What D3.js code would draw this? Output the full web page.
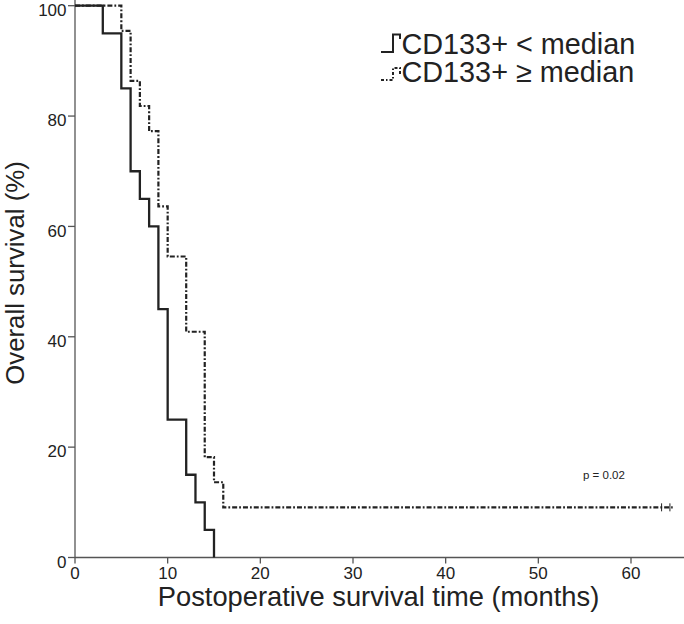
<!DOCTYPE html>
<html><head><meta charset="utf-8">
<script src="https://cdn.jsdelivr.net/npm/d3@7"></script>
<style>
html,body{margin:0;padding:0;background:#fff;}
svg{display:block;font-family:"Liberation Sans",Arial,sans-serif;}
</style></head>
<body>
<script>
// Data
const timesLow = [0, 3, 5, 6, 7, 8, 9, 10, 12, 13, 14, 15];
const survLow  = [100, 95, 85, 70, 65, 60, 45, 25, 15, 10, 5, 0];
const timesHigh = [0, 5, 6, 7, 8, 9, 10, 12, 14, 15, 16];
const survHigh  = [100, 95.45, 86.36, 81.82, 77.27, 63.64, 54.55, 40.91, 18.18, 13.64, 9.09];
const censorHigh = [63.3, 64.2];
const endHigh = 64.5;
const xTicks = [0, 10, 20, 30, 40, 50, 60];
const yTicks = [0, 20, 40, 60, 80, 100];
const legendLabels = ["CD133+ < median", "CD133+ \u2265 median"];
const pLabel = "p = 0.02";
const xTitle = "Postoperative survival time (months)";
const yTitle = "Overall survival (%)";

const W = 684, H = 624;
const svg = d3.select("body").append("svg").attr("width", W).attr("height", H);

const x = d3.scaleLinear().domain([0, 60]).range([75, 631]);
const y = d3.scaleLinear().domain([0, 100]).range([557.5, 5.7]);

const axisColor = "#555";
const lineColor = "#222";
const textColor = "#222";

// Axes lines
svg.append("line").attr("x1", x(0)).attr("x2", W).attr("y1", y(0)).attr("y2", y(0))
  .attr("stroke", axisColor).attr("stroke-width", 1.3);
svg.append("line").attr("x1", x(0)).attr("x2", x(0)).attr("y1", 0).attr("y2", y(0))
  .attr("stroke", axisColor).attr("stroke-width", 1.3);

// X ticks
const xg = svg.append("g");
xTicks.forEach(t => {
  xg.append("line").attr("x1", x(t)).attr("x2", x(t)).attr("y1", y(0)).attr("y2", y(0) + 6)
    .attr("stroke", axisColor).attr("stroke-width", 1.3);
  xg.append("text").attr("x", x(t)).attr("y", 579).attr("text-anchor", "middle")
    .attr("font-size", 17).attr("fill", textColor).text(t);
});
// Y ticks
const yg = svg.append("g");
yTicks.forEach(t => {
  yg.append("line").attr("x1", x(0) - 7).attr("x2", x(0)).attr("y1", y(t)).attr("y2", y(t))
    .attr("stroke", axisColor).attr("stroke-width", 1.3);
  yg.append("text").attr("x", 66.5).attr("y", y(t) + 4).attr("dy", "0.36em").attr("text-anchor", "end")
    .attr("font-size", 17).attr("fill", textColor).text(t);
});

// Titles
svg.append("text").attr("x", 378.5).attr("y", 606).attr("text-anchor", "middle")
  .attr("font-size", 27.3).attr("fill", textColor).text(xTitle);
svg.append("text").attr("transform", "translate(23.5,273) rotate(-90)").attr("text-anchor", "middle")
  .attr("font-size", 25.8).attr("fill", textColor).text(yTitle);

// Curves
const line = d3.line().x(d => x(d[0])).y(d => y(d[1])).curve(d3.curveStepAfter);
const lowData = timesLow.map((t, i) => [t, survLow[i]]);
svg.append("path").datum(lowData).attr("d", line).attr("fill", "none")
  .attr("stroke", lineColor).attr("stroke-width", 2.3);

const highData = timesHigh.map((t, i) => [t, survHigh[i]]);
highData.push([endHigh, survHigh[survHigh.length - 1]]);
svg.append("path").datum(highData).attr("d", line).attr("fill", "none")
  .attr("stroke", lineColor).attr("stroke-width", 2.2).attr("stroke-dasharray", "5,2,1.8,2");

// censor marks
const lastS = survHigh[survHigh.length - 1];
censorHigh.forEach(c => {
  svg.append("line").attr("x1", x(c)).attr("x2", x(c)).attr("y1", y(lastS) - 4).attr("y2", y(lastS) + 4)
    .attr("stroke", lineColor).attr("stroke-width", 1);
});

// p value
svg.append("text").attr("x", 583).attr("y", 479).attr("font-size", 11.5).attr("fill", textColor).text(pLabel);

// Legend
const lg = svg.append("g");
lg.append("path").attr("d", "M381,52 H393 V34.5 H400 V39")
  .attr("fill", "none").attr("stroke", lineColor).attr("stroke-width", 2);
lg.append("path").attr("d", "M381,80 H393 V68 H400 V74")
  .attr("fill", "none").attr("stroke", lineColor).attr("stroke-width", 2).attr("stroke-dasharray", "3,2,1.5,2");
lg.append("text").attr("x", 401.5).attr("y", 53.5).attr("font-size", 28.8).attr("fill", textColor).text(legendLabels[0]);
lg.append("text").attr("x", 401.5).attr("y", 82).attr("font-size", 28.8).attr("fill", textColor).text(legendLabels[1]);
</script>
</body></html>
